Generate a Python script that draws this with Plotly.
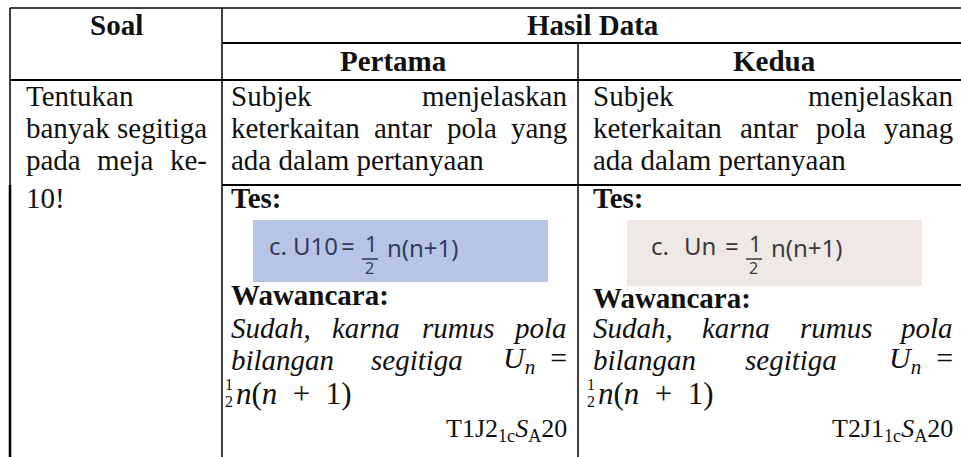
import plotly.graph_objects as go

# ---------------- content ----------------
title_text = "Tabel 4.32 Validasi Data Soal Nomor 1 c"
header_soal = "Soal"
header_hasil = "Hasil Data"
header_cols = ["Pertama", "Kedua"]
soal_lines = ["Tentukan", "banyak segitiga", "pada meja ke-", "10!"]
soal_justify = [False, True, True, False]
pertama_lines = ["Subjek menjelaskan", "keterkaitan antar pola yang", "ada dalam pertanyaan"]
kedua_lines = ["Subjek menjelaskan", "keterkaitan antar pola yanag", "ada dalam pertanyaan"]
desc_justify = [True, True, False]
tes_label = "Tes:"
wawancara_label = "Wawancara:"
answer_line1 = "Sudah, karna rumus pola"
answer_line2 = ["bilangan", "segitiga"]
codes = [("T1J2", "1c", "S", "A", "20"), ("T2J1", "1c", "S", "A", "20")]
hand_left = ["c.", "U10", "="]
hand_right = ["c.", "Un", "="]
hand_tail = "n(n+1)"

FONT = "Liberation Serif"
FS = 29
INK = "#111111"
TY = -2  # vertical text correction

# Times-like advance widths (1/1000 em)
REG = dict(a=444, b=500, c=444, d=500, e=444, f=333, g=500, h=500, i=278, j=278, k=500, l=278,
           m=778, n=500, o=500, p=500, q=500, r=333, s=389, t=278, u=500, v=500, w=722, x=500,
           y=500, z=444)
REG.update({" ": 250, ",": 250, ".": 250, "-": 333, "!": 333, "S": 556, "T": 611})
ITA = dict(a=500, b=500, c=444, d=500, e=444, f=278, g=500, h=500, i=278, j=278, k=444, l=278,
           m=722, n=500, o=500, p=500, q=500, r=389, s=389, t=278, u=500, v=444, w=667, x=444,
           y=444, z=389)
ITA.update({" ": 250, ",": 250, "S": 500})


def tw(s, table, size=FS):
    return sum(table.get(ch, 500) for ch in s) / 1000.0 * size


ann = []


def put(x, y, text, anchor="left", size=FS, color=INK, family=FONT):
    ann.append(dict(x=x, y=y + TY, text=text, xanchor=anchor, yanchor="middle", showarrow=False,
                    font=dict(family=family, size=size, color=color), xref="x", yref="y",
                    borderpad=0))


def line_text(x0, x1, y, words, table, justify, wrap=lambda w: w):
    if not justify or len(words) == 1:
        put(x0, y, wrap(" ".join(words)))
        return
    widths = [tw(w, table) for w in words]
    gap = (x1 - x0 - sum(widths)) / (len(words) - 1)
    x = x0
    n = len(words)
    for i, (w, wd) in enumerate(zip(words, widths)):
        if i == 0:
            put(x0, y, wrap(w))
        elif i == n - 1:
            put(x1, y, wrap(w), anchor="right")
        else:
            put(x + wd / 2, y, wrap(w), anchor="center")
        x += wd + gap


# geometry (pixels)
X_L, X_S, X_M, X_R = 10, 222, 578, 961
Y_T, Y_H1, Y_H2, Y_R1, Y_B = 8, 43, 80, 185, 457
C1 = (25, 208)
C2 = (230, 568)
C3 = (592, 954)
row_y = [98, 130, 162, 200]

# title (cut at top)
ann.append(dict(x=480, y=-3, text="<b>" + title_text + "</b>", xanchor="center", yanchor="middle",
                showarrow=False, font=dict(family=FONT, size=FS, color=INK), xref="x", yref="y"))

# headers
put((X_L + X_S) / 2, 27, "<b>" + header_soal + "</b>", anchor="center")
put(593, 27, "<b>" + header_hasil + "</b>", anchor="center")
put(393, 63, "<b>" + header_cols[0] + "</b>", anchor="center")
put(774, 63, "<b>" + header_cols[1] + "</b>", anchor="center")

# soal column
for yy, s, j in zip(row_y, soal_lines, soal_justify):
    line_text(C1[0], C1[1], yy, s.split(), REG, j)

# description rows
for yy, s, j in zip(row_y, pertama_lines, desc_justify):
    line_text(C2[0], C2[1], yy, s.split(), REG, j)
for yy, s, j in zip(row_y, kedua_lines, desc_justify):
    line_text(C3[0], C3[1], yy, s.split(), REG, j)

# lower cells
bold = lambda w: "<b>" + w + "</b>"
ital = lambda w: "<i>" + w + "</i>"
SP = "\u2002"
for (c0, c1), wy, code in [(C2, 297, codes[0]), (C3, 300, codes[1])]:
    put(c0, 200, bold(tes_label))
    put(c0, wy, bold(wawancara_label))
    line_text(c0, c1, 330, answer_line1.split(), ITA, True, wrap=ital)
    widths = [tw(w, ITA) for w in answer_line2]
    math_w = 68
    gap = (c1 - c0 - sum(widths) - math_w) / 2
    put(c0, 362, ital(answer_line2[0]))
    put(c0 + widths[0] + gap + widths[1] / 2, 362, ital(answer_line2[1]), anchor="center")
    put(c1, 362, "<i>U<sub>n</sub></i>" + SP + "=", anchor="right", size=30)
    put(c0 - 6, 386, "1", size=16)
    put(c0 - 6, 403, "2", size=16)
    put(c0 + 5, 395, "<i>n</i>(<i>n</i>" + SP + "+" + SP + "1)", size=31)
    put(c1, 432, code[0] + "<sub>" + code[1] + "</sub><i>" + code[2] + "</i><sub>" + code[3] + "</sub>" + code[4],
        anchor="right", size=26)

# handwriting snippets
HAND = "Noto Sans"
shapes = []
for (bx0, bx1, by1, col, xs, words, hcol) in [
        (253, 548, 282, "#b8c4e6", [268, 292, 340], hand_left, "#2f3a5c"),
        (627, 922, 286, "#efe8e5", [650, 683, 724], hand_right, "#3a3a3a")]:
    shapes.append(dict(type="rect", xref="x", yref="y", x0=bx0, x1=bx1, y0=220, y1=by1,
                       fillcolor=col, line=dict(width=0), layer="below"))
    for xx, w in zip(xs, words):
        put(xx, 247, w, size=24, color=hcol, family=HAND)
    fx = xs[2] + 24
    put(fx, 245, "1", size=22, color=hcol, family=HAND)
    shapes.append(dict(type="line", xref="x", yref="y", x0=fx - 2, x1=fx + 14, y0=259, y1=259,
                       line=dict(color=hcol, width=1.5)))
    put(fx, 270, "2", size=16, color=hcol, family=HAND)
    put(fx + 22, 249, hand_tail, size=24, color=hcol, family=HAND)

# table borders
def hl(x0, x1, y, w=2):
    shapes.append(dict(type="line", xref="x", yref="y", x0=x0, x1=x1, y0=y, y1=y,
                       line=dict(color="#000000", width=w)))


def vl(x, y0, y1, w=1.5):
    shapes.append(dict(type="line", xref="x", yref="y", x0=x, x1=x, y0=y0, y1=y1,
                       line=dict(color="#000000", width=w)))


hl(X_L, X_R, Y_T, 1.5)
hl(X_S, X_R, Y_H1, 2)
hl(X_L, X_R, Y_H2, 2)
hl(X_S, X_R, Y_R1, 2)
vl(X_L, Y_T, Y_R1, 1.5)
vl(X_L, Y_R1, Y_B, 2.5)
vl(X_S, Y_T, Y_B, 1.5)
vl(X_M, Y_H1, Y_B, 1.5)

fig = go.Figure()
fig.update_layout(
    width=961, height=457, margin=dict(l=0, r=0, t=0, b=0),
    paper_bgcolor="white", plot_bgcolor="white",
    xaxis=dict(range=[0, 961], visible=False, fixedrange=True),
    yaxis=dict(range=[457, 0], visible=False, fixedrange=True),
    annotations=ann, shapes=shapes, showlegend=False,
)
fig.write_html("out.html", config={"displayModeBar": False},
               post_script="document.body.style.margin='0px';document.body.style.overflow='hidden';")
